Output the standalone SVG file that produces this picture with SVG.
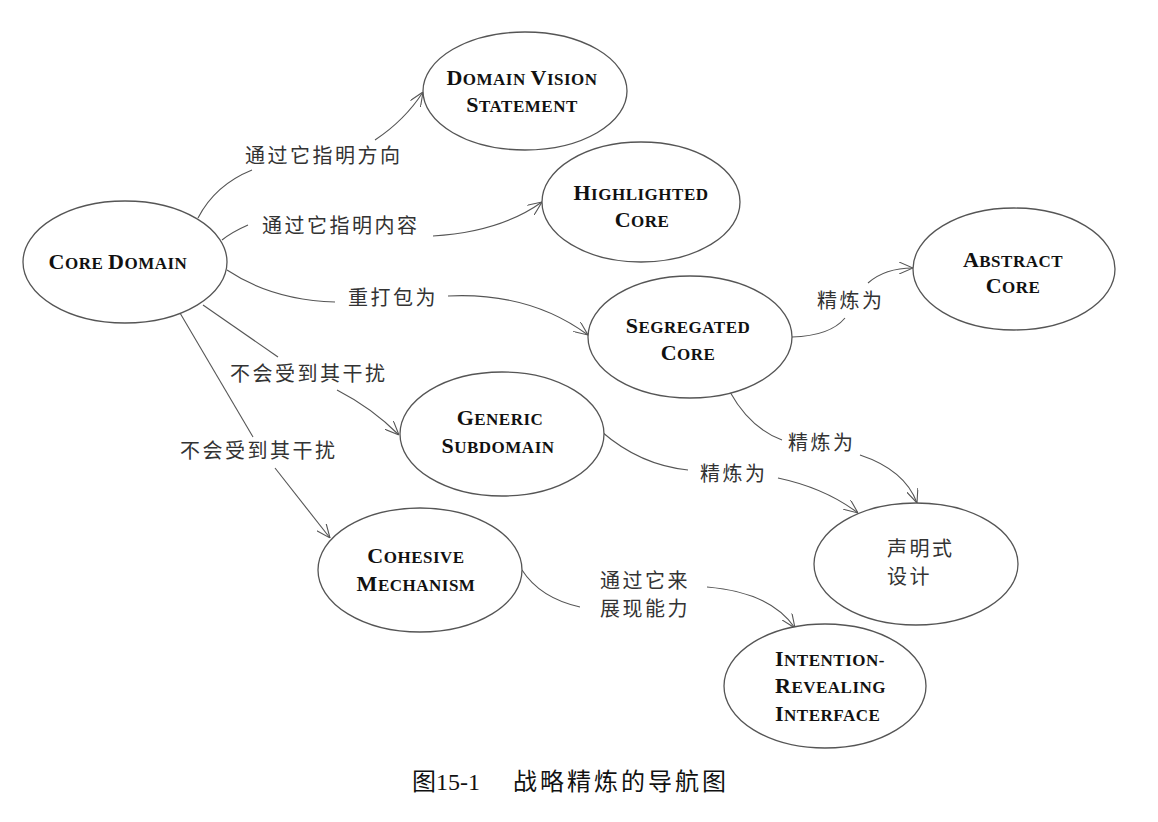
<svg xmlns="http://www.w3.org/2000/svg" width="1158" height="822" viewBox="0 0 1158 822">
<style>
.node ellipse{fill:#fff;stroke:#555;stroke-width:1.3}
.nt{font-family:"Liberation Serif","Times New Roman",serif;font-weight:bold;fill:#111;letter-spacing:0.5px}
.b{font-size:22px}
.s{font-size:17px}
.cn{font-family:"Noto Sans CJK SC","Noto Sans",sans-serif;font-size:20px;fill:#333;letter-spacing:2.5px}
.edges path{fill:none;stroke:#555;stroke-width:1.1}
.cap{font-family:"Noto Sans CJK SC",sans-serif;font-size:24px;fill:#111}
</style>
<defs>
<marker id="arr" viewBox="0 0 14 12" refX="14" refY="6" markerWidth="14" markerHeight="12" markerUnits="userSpaceOnUse" orient="auto">
<path d="M0,0 L14,6 L0,12" fill="none" stroke="#555" stroke-width="1.1"/>
</marker>
</defs>
<rect width="1158" height="822" fill="#fff"/>

<g class="edges" id="connectors">
<path d="M198,218 Q215,185 252,170"/>
<path d="M375,140 Q405,120 423,92" marker-end="url(#arr)"/>
<path d="M222,240 Q232,232 248,225"/>
<path d="M433,236 Q500,232 542,202" marker-end="url(#arr)"/>
<path d="M227,270 Q272,300 335,302"/>
<path d="M448,296 Q530,292 588,335" marker-end="url(#arr)"/>
<path d="M203,305 L278,357"/>
<path d="M337,390 Q372,408 399,435" marker-end="url(#arr)"/>
<path d="M180,313 L253,437"/>
<path d="M275,468 L330,538" marker-end="url(#arr)"/>
<path d="M792,337 Q830,336 845,318"/>
<path d="M868,283 Q885,268 913,268" marker-end="url(#arr)"/>
<path d="M730,392 Q750,428 782,440"/>
<path d="M860,455 Q905,470 917,503" marker-end="url(#arr)"/>
<path d="M602,432 Q640,465 688,470"/>
<path d="M778,478 Q825,488 858,513" marker-end="url(#arr)"/>
<path d="M522,570 Q540,598 580,607"/>
<path d="M707,587 Q770,592 795,628" marker-end="url(#arr)"/>
</g>

<g id="edge-labels">
<text class="cn" x="245" y="163">通过它指明方向</text>
<text class="cn" x="262" y="233">通过它指明内容</text>
<text class="cn" x="348" y="305">重打包为</text>
<text class="cn" x="230" y="381">不会受到其干扰</text>
<text class="cn" x="180" y="458">不会受到其干扰</text>
<text class="cn" x="817" y="308">精炼为</text>
<text class="cn" x="788" y="450">精炼为</text>
<text class="cn" x="700" y="481">精炼为</text>
<text class="cn" x="600" y="588">通过它来</text>
<text class="cn" x="600" y="616">展现能力</text>
</g>

<g class="node" id="core-domain">
<ellipse cx="125" cy="262" rx="102" ry="61"/>
<text class="nt" x="118" y="269" text-anchor="middle"><tspan class="b">C</tspan><tspan class="s">ORE </tspan><tspan class="b">D</tspan><tspan class="s">OMAIN</tspan></text>
</g>

<g class="node" id="domain-vision-statement">
<ellipse cx="525" cy="91" rx="102" ry="59"/>
<text class="nt" x="522" y="85" text-anchor="middle"><tspan class="b">D</tspan><tspan class="s">OMAIN </tspan><tspan class="b">V</tspan><tspan class="s">ISION</tspan></text>
<text class="nt" x="522" y="112" text-anchor="middle"><tspan class="b">S</tspan><tspan class="s">TATEMENT</tspan></text>
</g>

<g class="node" id="highlighted-core">
<ellipse cx="641" cy="202" rx="99" ry="60"/>
<text class="nt" x="641" y="200" text-anchor="middle"><tspan class="b">H</tspan><tspan class="s">IGHLIGHTED</tspan></text>
<text class="nt" x="642" y="227" text-anchor="middle"><tspan class="b">C</tspan><tspan class="s">ORE</tspan></text>
</g>

<g class="node" id="abstract-core">
<ellipse cx="1014" cy="269" rx="101" ry="61"/>
<text class="nt" x="1013" y="267" text-anchor="middle"><tspan class="b">A</tspan><tspan class="s">BSTRACT</tspan></text>
<text class="nt" x="1013" y="293" text-anchor="middle"><tspan class="b">C</tspan><tspan class="s">ORE</tspan></text>
</g>

<g class="node" id="segregated-core">
<ellipse cx="690" cy="337" rx="102" ry="61"/>
<text class="nt" x="688" y="333" text-anchor="middle"><tspan class="b">S</tspan><tspan class="s">EGREGATED</tspan></text>
<text class="nt" x="688" y="360" text-anchor="middle"><tspan class="b">C</tspan><tspan class="s">ORE</tspan></text>
</g>

<g class="node" id="generic-subdomain">
<ellipse cx="502" cy="434" rx="102" ry="62"/>
<text class="nt" x="500" y="425" text-anchor="middle"><tspan class="b">G</tspan><tspan class="s">ENERIC</tspan></text>
<text class="nt" x="498" y="453" text-anchor="middle"><tspan class="b">S</tspan><tspan class="s">UBDOMAIN</tspan></text>
</g>

<g class="node" id="cohesive-mechanism">
<ellipse cx="420" cy="570" rx="102" ry="62"/>
<text class="nt" x="416" y="563" text-anchor="middle"><tspan class="b">C</tspan><tspan class="s">OHESIVE</tspan></text>
<text class="nt" x="416" y="591" text-anchor="middle"><tspan class="b">M</tspan><tspan class="s">ECHANISM</tspan></text>
</g>

<g class="node" id="declarative-design">
<ellipse cx="916" cy="564" rx="102" ry="61"/>
<text class="cn" x="887" y="556">声明式</text>
<text class="cn" x="887" y="584">设计</text>
</g>

<g class="node" id="intention-revealing-interface">
<ellipse cx="825" cy="686" rx="101" ry="62"/>
<text class="nt" x="775" y="666"><tspan class="b">I</tspan><tspan class="s">NTENTION-</tspan></text>
<text class="nt" x="775" y="693"><tspan class="b">R</tspan><tspan class="s">EVEALING</tspan></text>
<text class="nt" x="775" y="721"><tspan class="b">I</tspan><tspan class="s">NTERFACE</tspan></text>
</g>

<g id="caption">
<text x="412" y="790"><tspan class="cap">图</tspan><tspan font-family="'Liberation Serif','Times New Roman',serif" font-size="24" fill="#111">15-1</tspan></text>
<text class="cap" x="513" y="790" letter-spacing="3">战略精炼的导航图</text>
</g>
</svg>
